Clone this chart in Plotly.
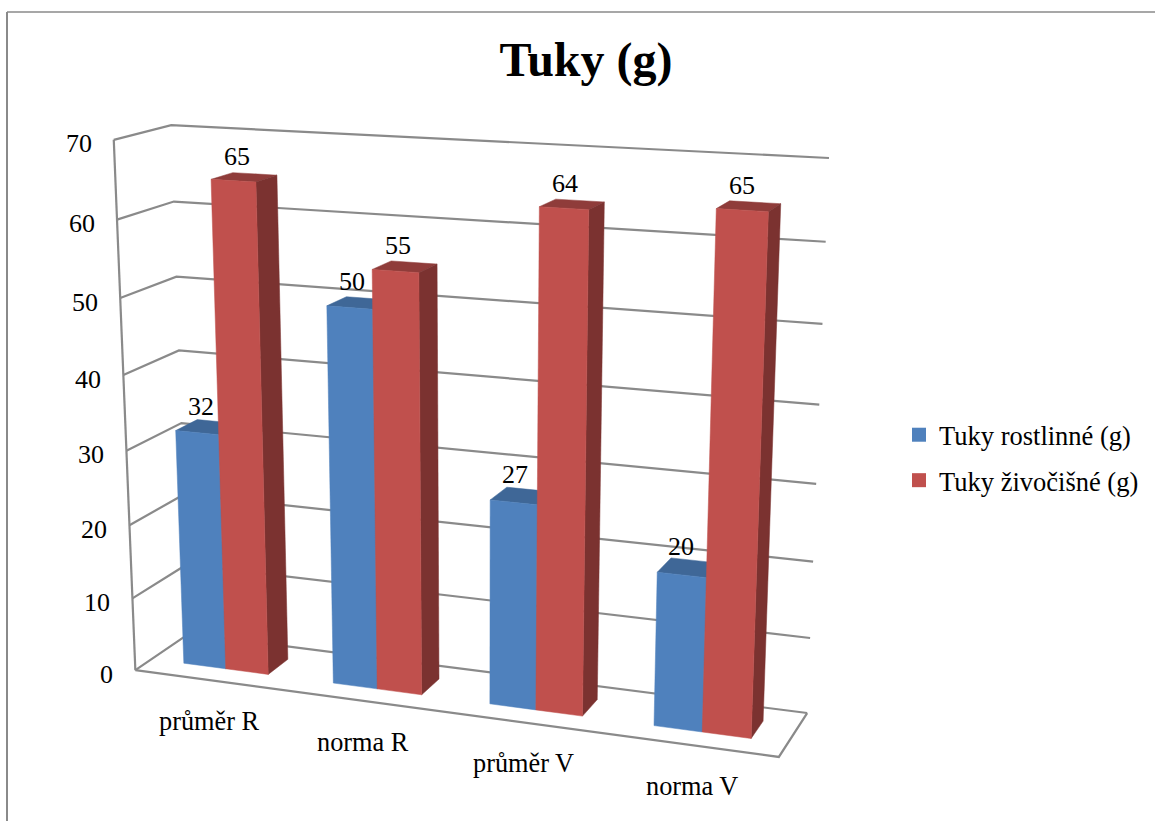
import numpy as np
import plotly.graph_objects as go

categories = ["průměr R", "norma R", "průměr V", "norma V"]
series_names = ["Tuky rostlinné (g)", "Tuky živočišné (g)"]
tuky_rostlinne = [32, 50, 27, 20]
tuky_zivocisne = [65, 55, 64, 65]
value_ticks = [0, 10, 20, 30, 40, 50, 60, 70]

FONT = "Liberation Serif"
GRID = "#8a8a8a"
FACE = {0: ("#4F81BD", "#3F6797", "#385D8A"), 1: ("#C0504D", "#8F3C3A", "#7B3230")}
Z_MAX = 70.0
N = len(categories)

# Perspective of the chart box: (category, depth, value) -> page pixels, solved from the box corners
box_world = [(0, 0, 0), (N, 0, 0), (N, 1, 0), (0, 1, 0), (0, 1, Z_MAX), (N, 1, Z_MAX), (0, 0, Z_MAX)]
box_page = [(135, 670), (779, 757), (807, 713), (189, 634), (171, 125), (829, 158), (114, 140)]
rows = []
for (a, b, c), (px, py) in zip(box_world, box_page):
    rows.append([a, b, c, 1, 0, 0, 0, 0, -px * a, -px * b, -px * c, -px])
    rows.append([0, 0, 0, 0, a, b, c, 1, -py * a, -py * b, -py * c, -py])
P = np.linalg.svd(np.array(rows, float))[2][-1].reshape(3, 4)


def proj(c, d, v):
    h = P @ np.array([c, d, v, 1.0])
    return h[0] / h[2], h[1] / h[2]


def polyline(pts):
    xy = [proj(*p) for p in pts]
    return [q[0] for q in xy], [q[1] for q in xy]


fig = go.Figure()


def line(pts):
    x, y = polyline(pts)
    fig.add_trace(go.Scatter(x=x, y=y, mode="lines", line=dict(color=GRID, width=2.2),
                             hoverinfo="skip", showlegend=False))


def face(pts, color):
    x, y = polyline(pts + pts[:1])
    fig.add_trace(go.Scatter(x=x, y=y, mode="lines", fill="toself", fillcolor=color,
                             line=dict(color=color, width=0.5), hoverinfo="skip", showlegend=False))


# walls and floor
for t in value_ticks:
    line([(0, 0, t), (0, 1, t), (N, 1, t)])
line([(0, 0, 0), (0, 0, Z_MAX)])
line([(0, 0, 0), (N, 0, 0), (N, 1, 0)])

# bars
START, WIDTH, D0, D1 = 0.22, 0.285, 0.30, 0.70
annotations = []
for i in range(N):
    for s, vals in enumerate([tuky_rostlinne, tuky_zivocisne]):
        v = vals[i]
        c0, c1 = i + START + s * WIDTH, i + START + (s + 1) * WIDTH
        front, top, side = FACE[s]
        face([(c0, D0, v), (c1, D0, v), (c1, D1, v), (c0, D1, v)], top)
        face([(c1, D0, 0), (c1, D1, 0), (c1, D1, v), (c1, D0, v)], side)
        face([(c0, D0, 0), (c1, D0, 0), (c1, D0, v), (c0, D0, v)], front)
        lx, ly = proj((c0 + c1) / 2, 0.5, v)
        annotations.append(dict(x=lx - 7, y=ly - 21, text=str(v), showarrow=False, xref="x", yref="y",
                                font=dict(family=FONT, size=26, color="#000")))

# value tick labels
for t in value_ticks:
    lx, ly = proj(0, 0, t)
    annotations.append(dict(x=lx - 20, y=ly + 4, text=str(t), showarrow=False, xref="x", yref="y",
                            xanchor="right", font=dict(family=FONT, size=26, color="#000")))

# category labels
for i, name in enumerate(categories):
    lx, ly = proj(i + 0.5, 0, 0)
    annotations.append(dict(x=lx + 0.5, y=ly + 41.5, text=name, showarrow=False, xref="x", yref="y",
                            font=dict(family=FONT, size=26.3, color="#000")))

# legend swatches
for s, name in enumerate(series_names):
    fig.add_trace(go.Scatter(x=[None], y=[None], mode="markers", name=name, legendgroup=name,
                             marker=dict(symbol="square", size=14, color=FACE[s][0])))

fig.update_layout(
    width=1155, height=821, margin=dict(l=0, r=0, t=0, b=0),
    paper_bgcolor="white", plot_bgcolor="white",
    xaxis=dict(range=[0, 1155], visible=False, fixedrange=True),
    yaxis=dict(range=[821, 0], visible=False, fixedrange=True),
    title=dict(text="<b>Tuky (g)</b>", x=586 / 1155, xanchor="center", y=1 - 59 / 821, yanchor="middle",
               font=dict(family=FONT, size=48, color="#000")),
    legend=dict(x=899 / 1155, y=1 - 411 / 821, xanchor="left", yanchor="top", tracegroupgap=8,
                font=dict(family=FONT, size=26.5, color="#000"), bgcolor="rgba(0,0,0,0)", itemwidth=30),
    annotations=annotations,
    shapes=[dict(type="line", xref="x", yref="y", x0=7, y0=12, x1=1155, y1=12, line=dict(color=GRID, width=1.5)),
            dict(type="line", xref="x", yref="y", x0=7, y0=12, x1=7, y1=821, line=dict(color=GRID, width=2))],
)
fig.write_html("out.html", config=dict(displayModeBar=False),
               post_script="document.body.style.margin='0';document.body.style.overflow='hidden';")
